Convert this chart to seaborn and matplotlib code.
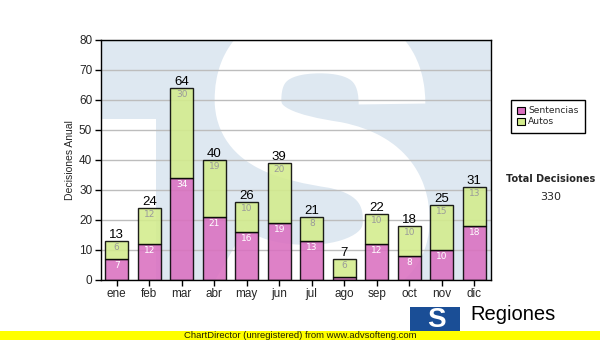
import matplotlib
matplotlib.use("Agg")
import matplotlib.pyplot as plt
from matplotlib.path import Path
from matplotlib.patches import PathPatch, Rectangle, Patch
import seaborn as sns
import pandas as pd

# Monthly decisions, split by type
meses = ["ene", "feb", "mar", "abr", "may", "jun", "jul", "ago", "sep", "oct", "nov", "dic"]
sentencias = [7, 12, 34, 21, 16, 19, 13, 1, 12, 8, 10, 18]
autos = [6, 12, 30, 19, 10, 20, 8, 6, 10, 10, 15, 13]
y_ticks = [0, 10, 20, 30, 40, 50, 60, 70, 80]

totales = [s + a for s, a in zip(sentencias, autos)]
total_general = sum(totales)

df = pd.DataFrame({"mes": meses, "sentencias": sentencias, "autos": autos})

sns.set_theme(style="white")
plt.rcParams["font.family"] = ["Liberation Sans", "DejaVu Sans"]

PINK = "#DA70C0"
GREEN = "#D3EC8C"

W, H = 600, 340
fig = plt.figure(figsize=(W / 100, H / 100), dpi=100)
fig.patch.set_facecolor("white")


def px_rect(x0, y0, x1, y1):
    return [x0 / W, 1 - y1 / H, (x1 - x0) / W, (y1 - y0) / H]


plot_rect = px_rect(100.5, 40, 490.5, 280)

# Watermark layer behind the plot
bg = fig.add_axes(plot_rect, zorder=0)
bg.set_xlim(100.5, 490.5)
bg.set_ylim(280, 40)
bg.axis("off")
bg.add_patch(Rectangle((100.5, 40), 390, 240, color="#DEE8F1", lw=0))
bg.add_patch(Rectangle((100.5, 119), 55, 161, color="white", lw=0))
verts = [
    (392, 104),
    (392, 55), (360, 40), (320, 40),
    (270, 40), (248, 62), (248, 100),
    (248, 138), (290, 148), (335, 155),
    (385, 165), (398, 195), (396, 225),
    (394, 262), (350, 280), (300, 278),
    (265, 277), (245, 268), (228, 258),
]
codes = [Path.MOVETO] + [Path.CURVE4] * 18
bg.add_patch(PathPatch(Path(verts, codes), fill=False, edgecolor="white",
                       lw=48, capstyle="butt", joinstyle="round"))

# Main chart
ax = fig.add_axes(plot_rect, zorder=1)
ax.patch.set_alpha(0)

sns.barplot(data=df, x="mes", y="sentencias", color=PINK, saturation=1,
            width=0.7, edgecolor="black", linewidth=1, alpha=0.88, ax=ax,
            zorder=2)
ax.bar(range(len(meses)), autos, bottom=sentencias, width=0.7, color=GREEN,
       edgecolor="black", linewidth=1, alpha=0.88, zorder=2)

ax.set_xlim(-0.5, len(meses) - 0.5)
ax.set_ylim(0, 80)
ax.set_yticks(y_ticks)
ax.set_xlabel("")
ax.set_ylabel("Decisiones Anual", fontsize=7.5, labelpad=3)
ax.yaxis.grid(True, color="#BDBDBD", lw=1)
ax.xaxis.grid(False)
ax.set_axisbelow(True)
for sp in ax.spines.values():
    sp.set_visible(True)
    sp.set_color("black")
    sp.set_linewidth(1)
ax.tick_params(axis="both", which="both", direction="out", length=4, width=1,
               color="black", labelsize=8.5, bottom=True, left=True, pad=2)

for i, (s, a, t) in enumerate(zip(sentencias, autos, totales)):
    ax.text(i, t + 2.1, str(t), ha="center", va="center", fontsize=9.5,
            color="black", zorder=4)
    if s >= 4:
        ax.text(i, s - 2.3, str(s), ha="center", va="center", fontsize=6.5,
                color="white", family=["DejaVu Sans"], zorder=4)
    if a >= 4:
        ax.text(i, t - 2.3, str(a), ha="center", va="center", fontsize=6.5,
                color="#9A9A9A", family=["DejaVu Sans"], zorder=4)

handles = [Patch(facecolor=PINK, edgecolor="black", lw=0.8, label="Sentencias"),
           Patch(facecolor=GREEN, edgecolor="black", lw=0.8, label="Autos")]
leg = fig.legend(handles=handles, loc="upper left",
                 bbox_to_anchor=(511 / W, 1 - 100 / H),
                 bbox_transform=fig.transFigure, frameon=True, fancybox=False,
                 edgecolor="black", framealpha=1, borderaxespad=0,
                 prop={"family": "DejaVu Sans", "size": 6.6},
                 handlelength=0.8, handleheight=0.8, handletextpad=0.4,
                 labelspacing=0.2, borderpad=0.7)
leg.get_frame().set_linewidth(1)

fig.text(551 / W, 1 - 179 / H, "Total Decisiones", ha="center", va="center",
         fontsize=7, fontweight="bold", family=["DejaVu Sans"])
fig.text(551 / W, 1 - 197 / H, str(total_general), ha="center", va="center",
         fontsize=8, family=["DejaVu Sans"])

# Footer logo
fig.patches.append(Rectangle((410 / W, 1 - 334 / H), 50 / W, 27 / H,
                             transform=fig.transFigure, color="#1A4E96",
                             lw=0, zorder=1))
fig.text(436 / W, 1 - 320 / H, "S", ha="center", va="center", fontsize=20,
         fontweight="bold", color="white", zorder=2)
fig.text(470 / W, 1 - 315 / H, "Regiones", ha="left", va="center",
         fontsize=14.5, color="black", zorder=2)

# Yellow footer band
fig.patches.append(Rectangle((0, 0), 1, 9.5 / H, transform=fig.transFigure,
                             color="#FFFF00", lw=0, zorder=5))
fig.text(300 / W, 4.8 / H, "ChartDirector (unregistered) from www.advsofteng.com",
         ha="center", va="center", fontsize=6.8, color="#222200", zorder=6)

fig.savefig("out.png", dpi=100)
